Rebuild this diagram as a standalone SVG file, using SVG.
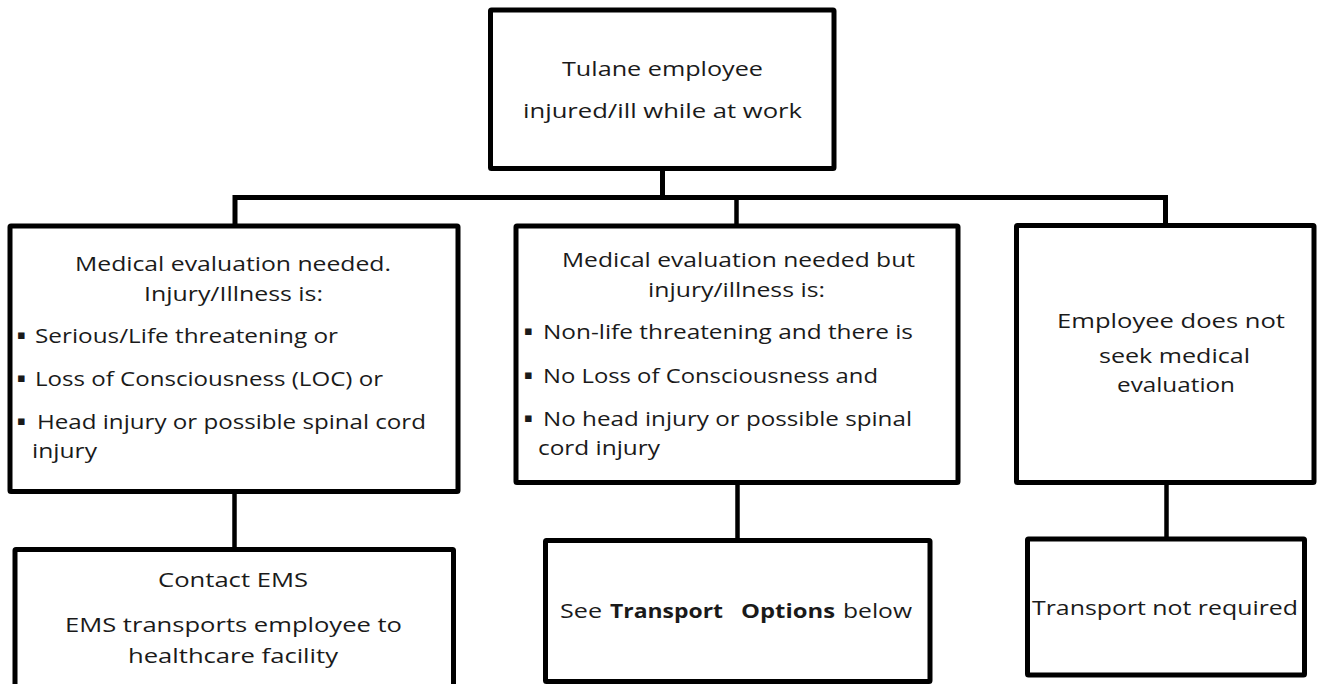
<svg xmlns="http://www.w3.org/2000/svg" width="1318" height="684" viewBox="0 0 1318 684">
<style>
.box{fill:#ffffff;stroke:#000000;stroke-width:5;stroke-linejoin:round}
.conn{fill:none;stroke:#000000;stroke-width:5;stroke-linejoin:miter;stroke-linecap:butt}
.thin{stroke-width:4.5}
text{font-family:"Open Sans","Liberation Sans",sans-serif;font-size:19.5px;fill:#1a1a1a}
.b{font-weight:bold}
.bul{font-family:"DejaVu Sans",sans-serif;font-size:13px}
</style>
<rect width="1318" height="684" fill="#ffffff"/>
<g id="connectors">
<path class="conn" d="M662.5,168 V197.5"/>
<path class="conn" d="M235,226 V197.5 H1165.5 V225.5"/>
<path class="conn thin" d="M736.5,200 V226"/>
<path class="conn thin" d="M234.5,491 V549"/>
<path class="conn thin" d="M737.5,482 V540"/>
<path class="conn thin" d="M1166.5,482 V539"/>
</g>
<g id="node-top">
<rect class="box" x="490.5" y="10" width="343.5" height="158.5" rx="1"/>
<text x="562" y="76" textLength="201" lengthAdjust="spacingAndGlyphs">Tulane employee</text>
<text x="523" y="118" textLength="279" lengthAdjust="spacingAndGlyphs">injured/ill while at work</text>
</g>
<g id="node-serious">
<rect class="box" x="10" y="226" width="448" height="265.5" rx="1"/>
<text x="75" y="271" textLength="316" lengthAdjust="spacingAndGlyphs">Medical evaluation needed.</text>
<text x="144" y="301" textLength="179" lengthAdjust="spacingAndGlyphs">Injury/Illness is:</text>
<text class="bul" x="17" y="339">▪</text>
<text x="35" y="343" textLength="303" lengthAdjust="spacingAndGlyphs">Serious/Life threatening or</text>
<text class="bul" x="17" y="382">▪</text>
<text x="35" y="386" textLength="348" lengthAdjust="spacingAndGlyphs">Loss of Consciousness (LOC) or</text>
<text class="bul" x="17" y="425">▪</text>
<text x="37" y="429" textLength="389" lengthAdjust="spacingAndGlyphs">Head injury or possible spinal cord</text>
<text x="32" y="458" textLength="65" lengthAdjust="spacingAndGlyphs">injury</text>
</g>
<g id="node-nonlife">
<rect class="box" x="516" y="226" width="442" height="256.5" rx="1"/>
<text x="562" y="267" textLength="353" lengthAdjust="spacingAndGlyphs">Medical evaluation needed but</text>
<text x="648" y="297" textLength="177" lengthAdjust="spacingAndGlyphs">injury/illness is:</text>
<text class="bul" x="524" y="335">▪</text>
<text x="543" y="339" textLength="370" lengthAdjust="spacingAndGlyphs">Non-life threatening and there is</text>
<text class="bul" x="524" y="379">▪</text>
<text x="543" y="383" textLength="335" lengthAdjust="spacingAndGlyphs">No Loss of Consciousness and</text>
<text class="bul" x="524" y="422">▪</text>
<text x="543" y="426" textLength="369" lengthAdjust="spacingAndGlyphs">No head injury or possible spinal</text>
<text x="538" y="455" textLength="122" lengthAdjust="spacingAndGlyphs">cord injury</text>
</g>
<g id="node-noeval">
<rect class="box" x="1016.5" y="225.5" width="297.5" height="257" rx="1"/>
<text x="1057" y="328" textLength="228" lengthAdjust="spacingAndGlyphs">Employee does not</text>
<text x="1099" y="363" textLength="151" lengthAdjust="spacingAndGlyphs">seek medical</text>
<text x="1117" y="392" textLength="118" lengthAdjust="spacingAndGlyphs">evaluation</text>
</g>
<g id="node-ems">
<rect class="box" x="15" y="549.5" width="438.5" height="160" rx="1"/>
<text x="158" y="587" textLength="150" lengthAdjust="spacingAndGlyphs">Contact EMS</text>
<text x="65" y="632" textLength="337" lengthAdjust="spacingAndGlyphs">EMS transports employee  to</text>
<text x="128" y="663" textLength="210" lengthAdjust="spacingAndGlyphs">healthcare facility</text>
</g>
<g id="node-options">
<rect class="box" x="545.5" y="540.5" width="384.5" height="141" rx="1"/>
<text x="560" y="618" textLength="42" lengthAdjust="spacingAndGlyphs">See</text>
<text class="b" x="610" y="618" textLength="113" lengthAdjust="spacingAndGlyphs">Transport</text>
<text class="b" x="741" y="618" textLength="94" lengthAdjust="spacingAndGlyphs">Options</text>
<text x="843" y="618" textLength="69" lengthAdjust="spacingAndGlyphs">below</text>
</g>
<g id="node-notrequired">
<rect class="box" x="1027.5" y="539" width="277" height="136" rx="1"/>
<text x="1032" y="615" textLength="266" lengthAdjust="spacingAndGlyphs">Transport not required</text>
</g>
</svg>
